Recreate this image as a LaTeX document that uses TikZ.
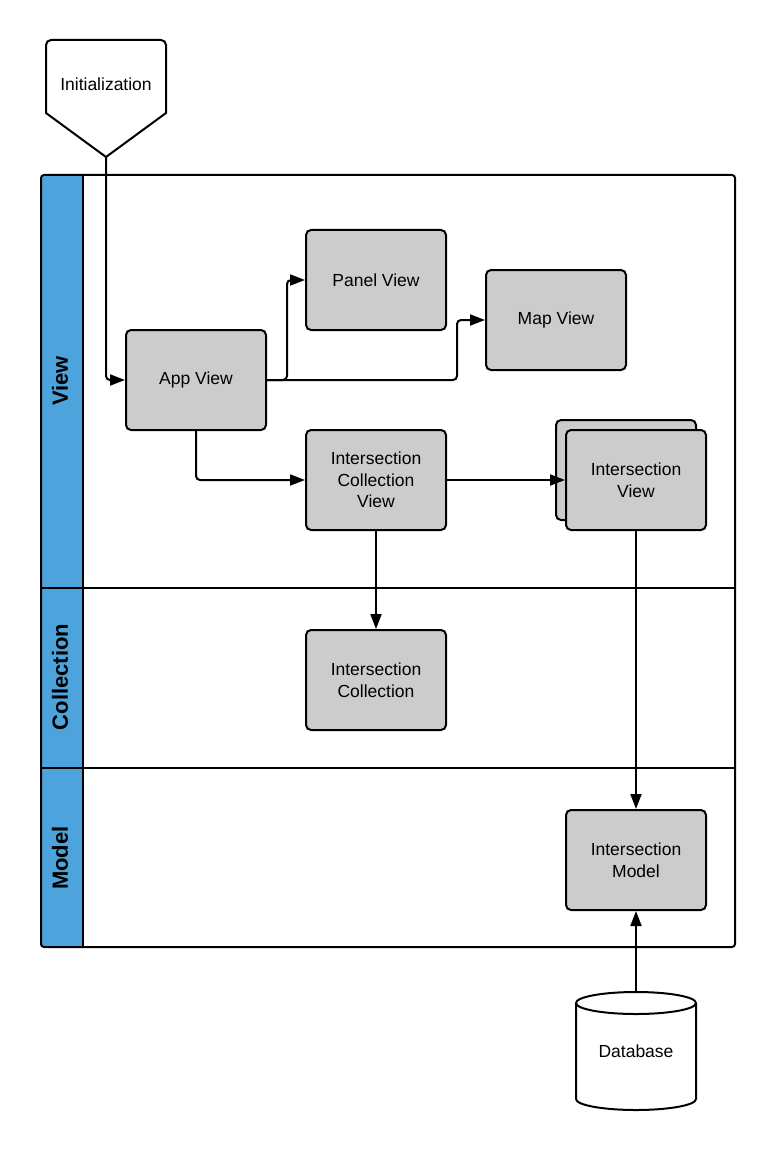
\documentclass[tikz,border=0pt]{standalone}
\usepackage{fontspec}
\setmainfont{Liberation Sans}
\usetikzlibrary{arrows.meta}
\definecolor{laneblue}{HTML}{4DA3DB}
\definecolor{boxgrey}{HTML}{CCCCCC}

\begin{document}
\begin{tikzpicture}[
    box/.style={rectangle, rounded corners=5pt, draw=black, line width=2pt, fill=boxgrey,
        minimum width=140pt, minimum height=100pt, align=center, font=\fontsize{17.5}{21.5}\selectfont},
    lane/.style={rotate=90, font=\bfseries\fontsize{22}{26}\selectfont},
    note/.style={align=center, font=\fontsize{17.5}{21.5}\selectfont},
    border/.style={line width=2pt},
    link/.style={line width=2pt, rounded corners=4pt, -{Triangle[length=15pt, width=11pt]}},
    x=1pt, y=-1pt]

    \useasboundingbox (0, 0) rectangle (775, 1150);

    % ----- swimlane pool: blue label column, three lanes
    \begin{scope}
        \clip[rounded corners=3pt] (41, 175) rectangle (735, 947);
        \fill[laneblue] (41, 175) rectangle (83, 947);
    \end{scope}
    \draw[border, rounded corners=3pt] (41, 175) rectangle (735, 947);
    \draw[border] (83, 175) -- (83, 947);
    \draw[border] (41, 588) -- (735, 588);
    \draw[border] (41, 768) -- (735, 768);
    \node[lane] (laneview) at (60, 381) {View};
    \node[lane] (lanecoll) at (60, 677) {Collection};
    \node[lane] (lanemodel) at (60, 858) {Model};

    % ----- entry point
    \draw[border, fill=white] (106, 157) -- (46, 113) [rounded corners=5pt] -- (46, 40) -- (166, 40)
        [sharp corners] -- (166, 113) -- cycle;
    \node[note] (init) at (106, 84) {Initialization};
    \coordinate (initTip) at (106, 157);

    % ----- views, collection and model
    \node[box] (app)    at (196, 380) {App View};
    \node[box] (panel)  at (376, 280) {Panel View};
    \node[box] (map)    at (556, 320) {Map View};
    \node[box] (icv)    at (376, 480) {Intersection\\Collection\\View};
    \node[box] (ivback) at (626, 470) {};
    \node[box] (iv)     at (636, 480) {Intersection\\View};
    \node[box] (ic)     at (376, 680) {Intersection\\Collection};
    \node[box] (im)     at (636, 860) {Intersection\\Model};

    % ----- database cylinder, text on top
    \draw[border, fill=white] (576, 1003) -- (576, 1099)
        arc[start angle=180, end angle=0, x radius=60, y radius=11] -- (696, 1003);
    \draw[border, fill=white] (636, 1003) ellipse [x radius=60, y radius=11];
    \node[note, minimum width=120pt, minimum height=118pt, inner sep=0pt] (db) at (636, 1051) {Database};

    % ----- connectors
    \draw[link] (initTip) |- (app.west);
    \draw[link] (app.east) -- ++(20, 0) |- (panel.west);
    \draw[link] (app.east) -- ++(190, 0) |- (map.west);
    \draw[link] (app.south) |- (icv.west);
    \draw[link] (icv.east) -- (iv.west);
    \draw[link] (icv.south) -- (ic.north);
    \draw[link] (iv.south) -- (im.north);
    \draw[link] (db.north) -- (im.south);
\end{tikzpicture}
\end{document}
